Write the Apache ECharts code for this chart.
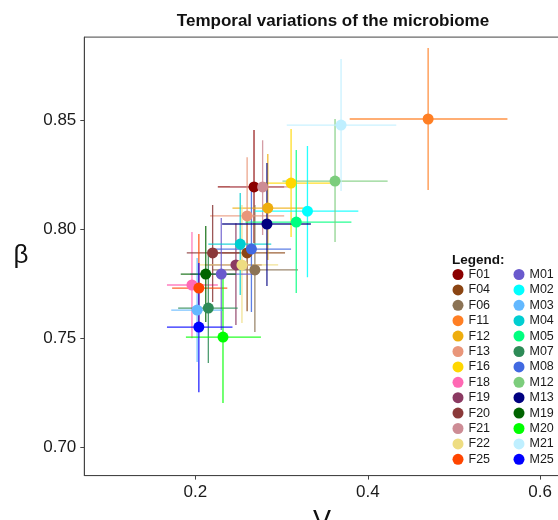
<!DOCTYPE html>
<html>
<head>
<meta charset="utf-8">
<script src="https://cdn.jsdelivr.net/npm/echarts@6/dist/echarts.min.js"></script>
<style>
html,body{margin:0;padding:0;background:#fff;}
#chart{width:558px;height:520px;}
</style>
</head>
<body>
<div id="chart"></div>
<script>
// ---- data ----
const subjects = ['F01','F04','F06','F11','F12','F13','F16','F18','F19','F20','F21','F22','F25',
                  'M01','M02','M03','M04','M05','M07','M08','M12','M13','M19','M20','M21','M25'];
const colors = ['#8B0000','#8B4513','#8B7355','#FF7F24','#EEAD0E','#E9967A','#FFD700','#FF69B4','#8B3A62','#8B3A3A','#CD8C95','#EEDD82','#FF4500',
                '#6A5ACD','#00FFFF','#63B8FF','#00CED1','#00FF7F','#2E8B57','#4169E1','#7CCD7C','#000080','#006400','#00FF00','#BFEFFF','#0000FF'];
const vValues    = [0.268,0.260,0.269,0.470,0.284,0.260,0.311,0.196,0.247,0.220,0.278,0.254,0.204,
                    0.230,0.330,0.202,0.252,0.317,0.215,0.265,0.362,0.283,0.212,0.232,0.369,0.204];
const betaValues = [0.8195,0.7892,0.7814,0.8507,0.8098,0.8062,0.8213,0.7745,0.7837,0.7892,0.8195,0.7837,0.7731,
                    0.7795,0.8084,0.7630,0.7933,0.8034,0.7639,0.7910,0.8222,0.8025,0.7795,0.7506,0.8479,0.7552];
const vLow    = [0.226,0.223,0.220,0.379,0.243,0.217,0.277,0.167,0.211,0.190,0.240,0.205,0.173,
                 0.194,0.269,0.172,0.215,0.258,0.180,0.217,0.301,0.231,0.183,0.189,0.306,0.167];
const vHigh   = [0.303,0.304,0.319,0.562,0.325,0.303,0.359,0.226,0.277,0.258,0.310,0.296,0.237,
                 0.272,0.389,0.232,0.288,0.381,0.249,0.311,0.423,0.334,0.247,0.276,0.433,0.243];
const betaLow  = [0.7938,0.7625,0.7529,0.8181,0.7860,0.7905,0.7965,0.7501,0.7561,0.7667,0.7974,0.7570,0.7560,
                  0.7538,0.7781,0.7391,0.7699,0.7708,0.7387,0.7621,0.7942,0.7740,0.7575,0.7203,0.8176,0.7253];
const betaHigh = [0.8456,0.8080,0.8112,0.8833,0.8346,0.8332,0.8461,0.7988,0.8029,0.8112,0.8410,0.8112,0.7979,
                  0.8052,0.8383,0.7869,0.8167,0.8365,0.7905,0.8199,0.8507,0.8305,0.8016,0.7781,0.8782,0.7846];
const xTicks = [0.2, 0.4, 0.6];
const yTicks = [0.70, 0.75, 0.80, 0.85];

// ---- chart ----
const chart = echarts.init(document.getElementById('chart'), null, {renderer:'canvas'});
const FONT = '"Liberation Sans", Arial, Helvetica, sans-serif';

const errData = subjects.map((s,i)=>[vValues[i], betaValues[i], vLow[i], vHigh[i], betaLow[i], betaHigh[i]]);

const series = [{
  name: 'errorbars',
  type: 'custom',
  z: 2,
  clip: true,
  encode: {x:[0,2,3], y:[1,4,5]},
  data: errData,
  renderItem: function(params, api){
    const idx = params.dataIndex;
    const c = colors[idx];
    const l = api.coord([api.value(2), api.value(1)]);
    const r = api.coord([api.value(3), api.value(1)]);
    const b = api.coord([api.value(0), api.value(4)]);
    const t = api.coord([api.value(0), api.value(5)]);
    const st = {stroke:c, lineWidth:1.3, opacity:0.85};
    return {type:'group', children:[
      {type:'line', shape:{x1:b[0],y1:b[1],x2:t[0],y2:t[1]}, style:st},
      {type:'line', shape:{x1:l[0],y1:l[1],x2:r[0],y2:r[1]}, style:st}
    ]};
  }
}];
subjects.forEach((s,i)=>{
  series.push({
    name: s,
    type: 'scatter',
    z: 3,
    symbol: 'circle',
    symbolSize: 11,
    itemStyle: {color: colors[i], opacity: 1},
    emphasis: {disabled: true},
    data: [[vValues[i], betaValues[i]]]
  });
});

const legendCommon = {
  orient: 'vertical',
  icon: 'circle',
  itemWidth: 11,
  itemHeight: 11,
  itemGap: 0.4,
  padding: 0,
  selectedMode: false,
  textStyle: {fontFamily: FONT, fontSize: 12.5, color: '#1a1a1a', lineHeight: 15}
};

chart.setOption({
  animation: false,
  backgroundColor: '#ffffff',
  title: {
    text: 'Temporal variations of the microbiome',
    left: 328, top: 8, textAlign: 'center',
    textStyle: {fontFamily: FONT, fontSize: 17, fontWeight: 'bold', color: '#111'}
  },
  grid: {
    left: 84.3, top: 37.1, width: 475.7, height: 438.5,
    show: true, borderColor: '#444', borderWidth: 1,
    containLabel: false, outerBoundsMode: 'none'
  },
  xAxis: {
    type: 'value', min: 0.0711, max: 0.623,
    splitLine: {show:false},
    axisLine: {show:true, lineStyle:{color:'#444', width:1}},
    axisTick: {show:true, length:4, lineStyle:{color:'#444'}, customValues: xTicks},
    axisLabel: {customValues: xTicks, fontFamily: FONT, fontSize: 17, color: '#1a1a1a', margin: 8,
                formatter: v => v.toFixed(1)}
  },
  yAxis: {
    type: 'value', min: 0.687, max: 0.8883,
    splitLine: {show:false},
    axisLine: {show:true, lineStyle:{color:'#444', width:1}},
    axisTick: {show:true, length:4, lineStyle:{color:'#444'}, customValues: yTicks},
    axisLabel: {customValues: yTicks, fontFamily: FONT, fontSize: 17, color: '#1a1a1a', margin: 8,
                formatter: v => v.toFixed(2)}
  },
  legend: [
    Object.assign({}, legendCommon, {data: subjects.slice(0,13), left: 452.5, top: 267}),
    Object.assign({}, legendCommon, {data: subjects.slice(13), left: 513.5, top: 267})
  ],
  graphic: [
    {type:'text', left: 452, top: 253, silent: true,
     style:{text:'Legend:', font:'bold 13.5px ' + FONT, fill:'#111'}},
    {type:'text', x: 322, y: 522, silent: true,
     style:{text:'V', font:'27px ' + FONT, fill:'#111', textAlign:'center', textVerticalAlign:'middle'}},
    {type:'text', x: 21, y: 256, silent: true,
     style:{text:'β', font:'26px ' + FONT, fill:'#111', textAlign:'center', textVerticalAlign:'middle'}}
  ],
  series: series
});
</script>
</body>
</html>
